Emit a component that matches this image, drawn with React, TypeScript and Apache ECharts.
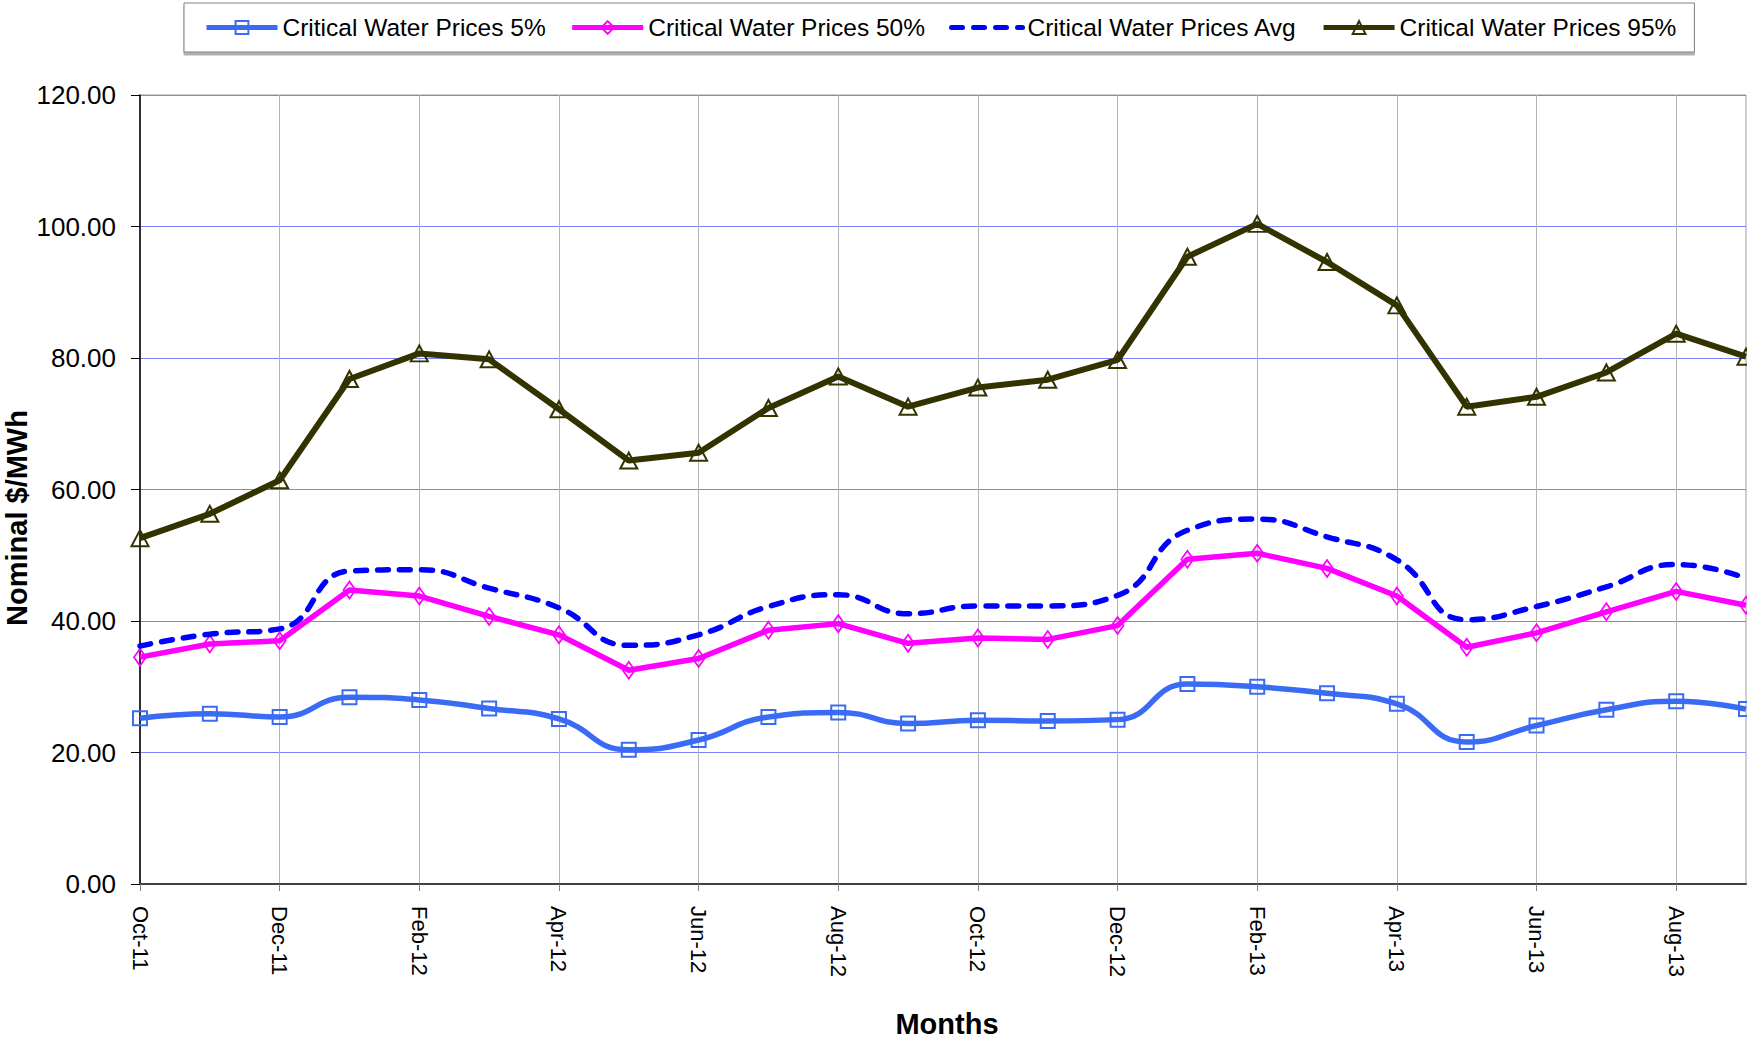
import React, { useEffect, useRef } from "react";
import * as echarts from "echarts";

const months = [
  "Oct-11", "Nov-11", "Dec-11", "Jan-12", "Feb-12", "Mar-12", "Apr-12", "May-12",
  "Jun-12", "Jul-12", "Aug-12", "Sep-12", "Oct-12", "Nov-12", "Dec-12", "Jan-13",
  "Feb-13", "Mar-13", "Apr-13", "May-13", "Jun-13", "Jul-13", "Aug-13", "Sep-13",
];

const prices5 = [25.2, 25.9, 25.4, 28.4, 28.0, 26.7, 25.1, 20.4, 21.9, 25.4, 26.1, 24.4,
  24.9, 24.8, 25.0, 30.4, 30.0, 29.0, 27.4, 21.6, 24.1, 26.5, 27.8, 26.6];
const prices50 = [34.5, 36.5, 37.0, 44.7, 43.8, 40.7, 37.9, 32.5, 34.3, 38.6, 39.6, 36.6,
  37.4, 37.2, 39.3, 49.4, 50.3, 48.0, 43.8, 36.0, 38.2, 41.4, 44.5, 42.4];
const pricesAvg = [36.2, 38.0, 38.8, 47.6, 47.8, 45.0, 42.0, 36.3, 37.9, 42.2, 44.0, 41.1,
  42.3, 42.3, 43.9, 53.8, 55.5, 52.8, 49.3, 40.2, 42.2, 45.2, 48.6, 46.5];
const prices95 = [52.6, 56.3, 61.4, 76.8, 80.7, 79.8, 72.2, 64.4, 65.6, 72.4, 77.2, 72.6,
  75.5, 76.7, 79.7, 95.4, 100.4, 94.6, 88.0, 72.6, 74.1, 77.8, 83.7, 80.2];

const seriesNames = [
  "Critical Water Prices 5%",
  "Critical Water Prices 50%",
  "Critical Water Prices Avg",
  "Critical Water Prices 95%",
];
const yAxisTitle = "Nominal $/MWh";
const xAxisTitle = "Months";

const FONT = "'Liberation Sans', Arial, Helvetica, sans-serif";

export default function App() {
  const ref = useRef<HTMLDivElement>(null);

  useEffect(() => {
    if (!ref.current) return;
    const chart = echarts.init(ref.current, null, { renderer: "svg" });
    const option = {
      animation: false,
      backgroundColor: "#ffffff",
      textStyle: { fontFamily: FONT },
      grid: {
        left: 140,
        right: 1,
        top: 95,
        bottom: 157,
        show: true,
        borderColor: "#a0a0a0",
        borderWidth: 1,
        backgroundColor: "transparent",
      },
      legend: {
        left: 184,
        top: 3,
        padding: [12, 18, 12, 20],
        itemWidth: 71,
        itemHeight: 16,
        itemGap: 24,
        backgroundColor: "#ffffff",
        borderColor: "#808080",
        borderWidth: 1,
        borderRadius: 0,
        shadowColor: "#b0b0b0",
        shadowBlur: 0,
        shadowOffsetX: 0,
        shadowOffsetY: 3,
        lineStyle: { width: 5 },
        textStyle: { fontSize: 24.5, color: "#000000", fontFamily: FONT },
        data: [
          seriesNames[0],
          seriesNames[1],
          { name: seriesNames[2], itemStyle: { color: "transparent", borderWidth: 0, opacity: 0 } },
          seriesNames[3],
        ],
      },
      xAxis: {
        type: "category",
        data: months,
        boundaryGap: false,
        axisLine: { show: true, lineStyle: { color: "#404040", width: 2 } },
        axisTick: { show: true, interval: 1, length: 7, lineStyle: { color: "#808080" } },
        axisLabel: {
          interval: 1,
          rotate: -90,
          margin: 22,
          fontSize: 22,
          color: "#000000",
          fontFamily: FONT,
        },
        splitLine: { show: true, interval: 1, lineStyle: { color: "#b4b4b4", width: 1 } },
      },
      yAxis: {
        type: "value",
        min: 0,
        max: 120,
        interval: 20,
        axisLine: { show: true, lineStyle: { color: "#000000", width: 1.5 } },
        axisTick: { show: true, length: 9, lineStyle: { color: "#000000" } },
        axisLabel: {
          margin: 24,
          fontSize: 26,
          color: "#000000",
          fontFamily: FONT,
          formatter: (v: number) => v.toFixed(2),
        },
        splitLine: { show: true, lineStyle: { color: "#8080ff", width: 1 } },
      },
      graphic: [
        {
          type: "text",
          x: 947,
          y: 1024,
          style: {
            text: xAxisTitle,
            font: `bold 29px ${FONT}`,
            fill: "#000000",
            textAlign: "center",
            textVerticalAlign: "middle",
          },
        },
        {
          type: "text",
          x: 17,
          y: 518,
          rotation: Math.PI / 2,
          style: {
            text: yAxisTitle,
            font: `bold 29px ${FONT}`,
            fill: "#000000",
            textAlign: "center",
            textVerticalAlign: "middle",
          },
        },
      ],
      series: [
        {
          name: seriesNames[0],
          type: "line",
          data: prices5,
          smooth: true,
          symbol: "rect",
          symbolSize: 14,
          lineStyle: { color: "#3a6bf5", width: 5.5 },
          itemStyle: { color: "rgba(255,255,255,0)", borderColor: "#3a6bf5", borderWidth: 2 },
          z: 2,
        },
        {
          name: seriesNames[1],
          type: "line",
          data: prices50,
          smooth: false,
          symbol: "diamond",
          symbolSize: [12, 17],
          lineStyle: { color: "#ff00ff", width: 5.5 },
          itemStyle: { color: "rgba(255,255,255,0)", borderColor: "#ff00ff", borderWidth: 1.8 },
          z: 3,
        },
        {
          name: seriesNames[2],
          type: "line",
          data: pricesAvg,
          smooth: true,
          symbol: "none",
          lineStyle: { color: "#0000ff", width: 5.5, type: [11, 11], cap: "round" },
          itemStyle: { color: "#0000ff" },
          z: 4,
        },
        {
          name: seriesNames[3],
          type: "line",
          data: prices95,
          smooth: false,
          symbol: "triangle",
          symbolSize: [17, 16],
          lineStyle: { color: "#333300", width: 6 },
          itemStyle: { color: "rgba(255,255,255,0)", borderColor: "#333300", borderWidth: 2 },
          z: 5,
        },
      ],
    };
    chart.setOption(option as any);
    return () => chart.dispose();
  }, []);

  return (
    <div
      ref={ref}
      style={{ position: "fixed", left: 0, top: 0, width: 1747, height: 1041 }}
    />
  );
}
